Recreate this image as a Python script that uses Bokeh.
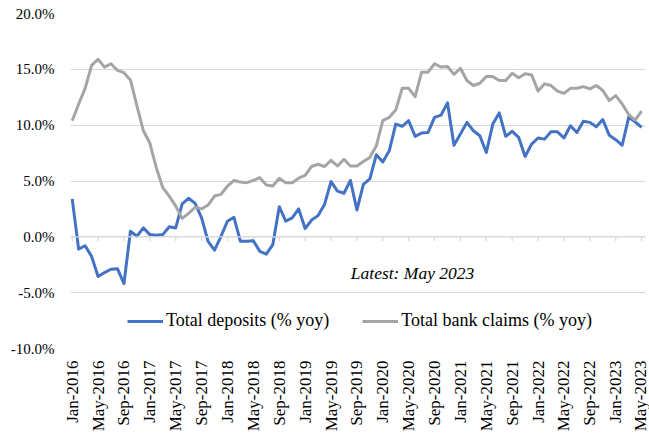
import math
from bokeh.plotting import figure
from bokeh.models import (Range1d, FixedTicker, PrintfTickFormatter, Legend,
                          LegendItem, Label, Span, ColumnDataSource)
from bokeh.embed import file_html
from bokeh.resources import INLINE

# ---- data (monthly, Jan-2016 .. May-2023) ----
month_index = list(range(89))

deposits = [3.4, -1.1, -0.8, -1.75, -3.55, -3.2, -2.9, -2.85, -4.2, 0.5,
            0.05, 0.8, 0.2, 0.15, 0.2, 0.9, 0.8, 2.95, 3.45, 3.0,
            1.7, -0.4, -1.2, 0.05, 1.4, 1.75, -0.4, -0.4, -0.35, -1.3,
            -1.55, -0.7, 2.7, 1.4, 1.7, 2.5, 0.75, 1.5, 1.9, 2.9,
            4.95, 4.1, 3.9, 5.05, 2.4, 4.7, 5.2, 7.35, 6.7, 7.7,
            10.1, 9.9, 10.4, 9.0, 9.3, 9.35, 10.7, 10.9, 12.0, 8.2,
            9.2, 10.25, 9.5, 9.05, 7.55, 10.1, 11.1, 9.0, 9.45, 8.9,
            7.2, 8.3, 8.85, 8.75, 9.4, 9.4, 8.85, 9.95, 9.35, 10.35,
            10.25, 9.85, 10.5, 9.1, 8.7, 8.2, 10.7, 10.3, 9.8]

bank_claims = [10.4, 11.9, 13.3, 15.35, 15.9, 15.2, 15.5, 14.9, 14.7, 14.05,
               11.75, 9.5, 8.4, 6.2, 4.4, 3.65, 2.75, 1.65, 2.1, 2.65,
               2.5, 2.85, 3.65, 3.8, 4.55, 5.05, 4.9, 4.85, 5.05, 5.3,
               4.65, 4.55, 5.25, 4.85, 4.85, 5.25, 5.5, 6.3, 6.5, 6.3,
               6.85, 6.35, 6.95, 6.35, 6.35, 6.75, 7.1, 8.15, 10.4, 10.7,
               11.35, 13.3, 13.3, 12.55, 14.75, 14.75, 15.5, 15.2, 15.25, 14.55,
               15.1, 14.0, 13.55, 13.75, 14.35, 14.35, 14.0, 14.0, 14.65, 14.25,
               14.6, 14.5, 13.05, 13.7, 13.55, 13.05, 12.85, 13.3, 13.3, 13.45,
               13.25, 13.55, 13.1, 12.2, 12.65, 11.9, 10.95, 10.45, 11.25]

tick_positions = list(range(0, 89, 4))
tick_labels = ["Jan-2016", "May-2016", "Sep-2016", "Jan-2017", "May-2017",
               "Sep-2017", "Jan-2018", "May-2018", "Sep-2018", "Jan-2019",
               "May-2019", "Sep-2019", "Jan-2020", "May-2020", "Sep-2020",
               "Jan-2021", "May-2021", "Sep-2021", "Jan-2022", "May-2022",
               "Sep-2022", "Jan-2023", "May-2023"]
y_ticks = [-10, -5, 0, 5, 10, 15, 20]

series_names = ["Total deposits (% yoy)", "Total bank claims (% yoy)"]
note_text = "Latest: May 2023"

FONT = "Liberation Serif"
BLUE = "#4472C4"
GREY = "#A5A5A5"
GRID = "#D9D9D9"

src = ColumnDataSource(dict(x=month_index, dep=deposits, cl=bank_claims))

p = figure(width=649, height=434, output_backend="svg", toolbar_location=None,
           x_range=Range1d(-0.26, 88.6), y_range=Range1d(-10, 20),
           min_border_left=70, min_border_right=4, min_border_top=13,
           min_border_bottom=86)
p.outline_line_color = None
p.background_fill_color = "white"
p.border_fill_color = "white"

# grid
p.xgrid.visible = False
p.ygrid.ticker = FixedTicker(ticks=y_ticks)
p.ygrid.grid_line_color = GRID
p.ygrid.grid_line_width = 1

# zero axis line with tick marks
p.add_layout(Span(location=0, dimension="width", line_color=GRID, line_width=1.2))
p.segment(x0=tick_positions, y0=[0] * len(tick_positions),
          x1=tick_positions, y1=[-0.38] * len(tick_positions),
          line_color=GRID, line_width=1.2)

# y axis
p.yaxis.ticker = FixedTicker(ticks=y_ticks)
p.yaxis.formatter = PrintfTickFormatter(format="%.1f%%")
p.yaxis.axis_line_color = None
p.yaxis.major_tick_line_color = None
p.yaxis.minor_tick_line_color = None
p.yaxis.major_tick_out = 0
p.yaxis.major_tick_in = 0
p.yaxis.major_label_standoff = 16
p.yaxis.major_label_text_font = FONT
p.yaxis.major_label_text_font_size = "15px"
p.yaxis.major_label_text_color = "black"

# x axis
p.xaxis.ticker = FixedTicker(ticks=tick_positions)
p.xaxis.major_label_overrides = {pos: lab for pos, lab in zip(tick_positions, tick_labels)}
p.xaxis.major_label_orientation = math.pi / 2
p.xaxis.axis_line_color = None
p.xaxis.major_tick_line_color = None
p.xaxis.minor_tick_line_color = None
p.xaxis.major_tick_out = 0
p.xaxis.major_tick_in = 0
p.xaxis.major_label_standoff = 12
p.xaxis.major_label_text_font = FONT
p.xaxis.major_label_text_font_size = "17px"
p.xaxis.major_label_text_color = "black"

# lines
r1 = p.line("x", "dep", source=src, line_color=BLUE, line_width=3, line_join="round")
r2 = p.line("x", "cl", source=src, line_color=GREY, line_width=3, line_join="round")

legend = Legend(items=[LegendItem(label=series_names[0], renderers=[r1]),
                       LegendItem(label=series_names[1], renderers=[r2])],
                orientation="horizontal", location=(57, 17),
                border_line_color=None, background_fill_alpha=0,
                label_text_font=FONT, label_text_font_size="18px",
                label_text_color="black",
                glyph_width=36, glyph_height=16, label_standoff=3,
                spacing=33, padding=0, margin=0)
p.add_layout(legend)

p.add_layout(Label(x=52.6, y=-3.2, text=note_text, text_font=FONT,
                   text_font_style="italic", text_font_size="17.5px",
                   text_align="center", text_baseline="middle",
                   text_color="black"))

open("out.html", "w").write(file_html(p, INLINE))
